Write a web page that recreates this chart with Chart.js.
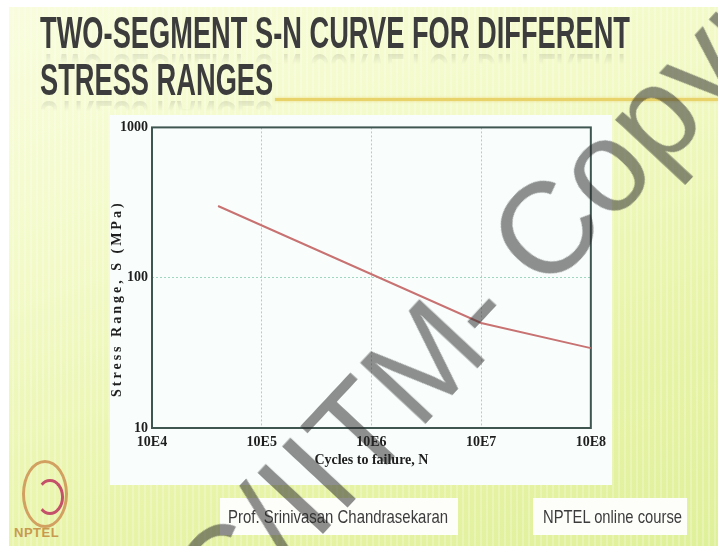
<!DOCTYPE html>
<html>
<head>
<meta charset="utf-8">
<script src="https://cdn.jsdelivr.net/npm/chart.js@4.4.1/dist/chart.umd.min.js"></script>
<style>
  html, body { margin: 0; padding: 0; }
  body { width: 718px; height: 546px; overflow: hidden; background: #fff; }
  #slide {
    position: relative; width: 718px; height: 546px; overflow: hidden;
    background:
      repeating-linear-gradient(90deg, rgba(255,255,255,0.22) 0 2px, rgba(255,255,255,0) 2px 6px),
      linear-gradient(160deg, #f9fdde 0%, #f3fac8 35%, #e8f4a8 70%, #dff09a 100%);
  }
  #topstrip { position: absolute; left: 0; top: 0; width: 718px; height: 7px; background: #fff; }
  #leftstrip { position: absolute; left: 0; top: 0; width: 9px; height: 546px; background: #fff; }
  .tl {
    position: absolute; left: 40px; white-space: nowrap;
    font-family: "Liberation Sans Narrow", "Liberation Sans", sans-serif;
    font-weight: bold; font-size: 45px; line-height: 45px; color: #3c3c3c;
    transform-origin: 0 0;
    -webkit-box-reflect: below -8px linear-gradient(transparent 62%, rgba(255,255,255,0.22));
  }
  #t1 { top: 10px; }
  #t2 { top: 57px; }
  #rule { position: absolute; left: 275px; top: 98px; width: 443px; height: 3px; background: #e8d36a; box-shadow: 0 0 3px rgba(230,200,90,0.6); }
  #panel { position: absolute; left: 110px; top: 115px; width: 502px; height: 370px; background: #f9fefd; }
  .foot { position: absolute; top: 498px; height: 37px; background: #fdfefa; }
  .foot span {
    position: absolute; top: 8px; white-space: nowrap;
    font-family: "Liberation Sans Narrow", "Liberation Sans", sans-serif;
    font-size: 19px; line-height: 21px; color: #3c3c3c; transform-origin: 0 0;
  }
  #f1 { left: 220px; width: 238px; }
  #f1 span { left: 8px; }
  #f2 { left: 533px; width: 154px; }
  #f2 span { left: 10px; }
  #logo { position: absolute; left: 14px; top: 455px; width: 60px; height: 90px; }
  #ring { position: absolute; left: 8px; top: 5px; width: 40px; height: 62px; border-radius: 50%; border: 3px solid #d2a060; }
  #core { position: absolute; left: 22px; top: 24px; width: 22px; height: 30px; border-radius: 50%; border: 3px solid #c4506a; border-left-color: transparent; }
  #logotext { position: absolute; left: 0; top: 70px; font-family: "Liberation Sans", sans-serif; font-weight: bold; font-size: 13px; color: #c89a50; letter-spacing: 0.5px; }
  #wm {
    position: absolute; left: 543px; top: 232px; white-space: nowrap;
    font-family: "Liberation Sans", Arial, sans-serif; font-size: 130px; line-height: 1;
    color: rgba(40,40,40,0.52); pointer-events: none;
    transform: translate(-50%, -50%) rotate(-47deg);
  }
</style>
</head>
<body>
<div id="slide">
  <div id="topstrip"></div>
  <div id="leftstrip"></div>
  <div class="tl" id="t1">TWO-SEGMENT S-N CURVE FOR DIFFERENT</div>
  <div class="tl" id="t2">STRESS RANGES</div>
  <div id="rule"></div>
  <div id="panel"><canvas id="chart" width="502" height="370"></canvas></div>
  <div id="logo"><div id="ring"></div><div id="core"></div><div id="logotext">NPTEL</div></div>
  <div class="foot" id="f1"><span>Prof. Srinivasan Chandrasekaran</span></div>
  <div class="foot" id="f2"><span>NPTEL online course</span></div>
  <div id="wm">C/IITM- Copyright</div>
</div>
<script>
// S-N curve: cycles to failure vs stress range
const cycles = [4e4, 1e7, 1e8];
const stress = [300, 50, 34];

const xTickValues = [1e4, 1e5, 1e6, 1e7, 1e8];
const xTickLabels = ['10E4', '10E5', '10E6', '10E7', '10E8'];
const yTickValues = [10, 100, 1000];

const xTitle = 'Cycles to failure, N';
const yTitle = 'Stress Range, S (MPa)';

const serif = '"Liberation Serif", "Times New Roman", serif';

// frame round the plot area
const frameBox = {
    id: 'frameBox',
    beforeDatasetsDraw(chart) {
        const { ctx, chartArea: a } = chart;
        ctx.save();
        ctx.strokeStyle = '#3e5550';
        ctx.lineWidth = 2;
        ctx.strokeRect(a.left, a.top, a.right - a.left, a.bottom - a.top);
        ctx.restore();
    }
};

// y title is letter-spaced in the original
const spacedYTitle = {
    id: 'spacedYTitle',
    afterDraw(chart) {
        const { ctx, chartArea: a } = chart;
        ctx.save();
        ctx.font = 'bold 14px ' + serif;
        ctx.fillStyle = '#1e1e1e';
        ctx.letterSpacing = '3px';
        ctx.textAlign = 'center';
        ctx.textBaseline = 'middle';
        ctx.translate(7, (a.top + a.bottom) / 2 + 21);
        ctx.rotate(-Math.PI / 2);
        ctx.fillText(yTitle, 0, 0);
        ctx.restore();
    }
};

const ctx = document.getElementById('chart').getContext('2d');
new Chart(ctx, {
    type: 'line',
    data: {
        datasets: [{
            label: 'S-N',
            data: cycles.map((n, i) => ({ x: n, y: stress[i] })),
            borderColor: '#c87272',
            borderWidth: 2,
            pointRadius: 0,
            tension: 0,
            fill: false
        }]
    },
    options: {
        responsive: false,
        animation: false,
        layout: { padding: { top: 11, right: 15, left: 0, bottom: 0 } },
        plugins: {
            legend: { display: false },
            tooltip: { enabled: false }
        },
        scales: {
            x: {
                type: 'logarithmic',
                min: 1e4,
                max: 1e8,
                afterBuildTicks: s => { s.ticks = xTickValues.map(v => ({ value: v })); },
                afterFit: s => { s.height = 57; },
                ticks: {
                    callback: (v, i) => xTickLabels[i],
                    autoSkip: false,
                    maxRotation: 0,
                    padding: 6,
                    color: '#1e1e1e',
                    font: { family: serif, size: 14, weight: 'bold' }
                },
                grid: { color: '#9fd8c0', lineWidth: 1, drawTicks: false },
                border: { display: false, dash: [2, 2] },
                title: {
                    display: true,
                    text: xTitle,
                    color: '#1e1e1e',
                    padding: { top: 0, bottom: 16 },
                    font: { family: serif, size: 14, weight: 'bold' }
                }
            },
            y: {
                type: 'logarithmic',
                min: 10,
                max: 1000,
                afterBuildTicks: s => { s.ticks = yTickValues.map(v => ({ value: v })); },
                afterFit: s => { s.width = 42; },
                ticks: {
                    callback: v => String(v),
                    padding: 4,
                    color: '#1e1e1e',
                    font: { family: serif, size: 14, weight: 'bold' }
                },
                grid: { color: '#9fd8c0', lineWidth: 1, drawTicks: false },
                border: { display: false, dash: [2, 2] }
            }
        }
    },
    plugins: [frameBox, spacedYTitle]
});

// fit the narrow slide texts to the widths in the picture
function fitWidth(el, w) {
    const r = el.getBoundingClientRect().width;
    const k = w / r;
    el.style.transform = 'scaleX(' + k + ')';
    return k;
}
const k = fitWidth(document.getElementById('t1'), 590);
document.getElementById('t2').style.transform = 'scaleX(' + k + ')';
fitWidth(document.querySelector('#f1 span'), 220);
fitWidth(document.querySelector('#f2 span'), 139);
</script>
</body>
</html>
